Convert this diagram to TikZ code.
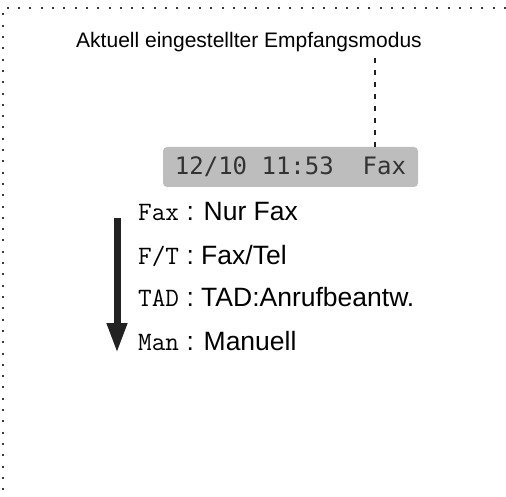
\documentclass[tikz,border=0pt]{standalone}
\usepackage{fontspec}
\setmainfont{Liberation Sans}
\setsansfont{Liberation Sans}
\newfontfamily\lcdfont{DejaVu Sans Mono}
\usetikzlibrary{arrows.meta, positioning, calc}
\definecolor{lcdGray}{HTML}{BDBDBD}
\definecolor{lcdText}{HTML}{333333}
\definecolor{frameDot}{HTML}{3A3A3A}
\definecolor{inkBlack}{HTML}{222222}
\tikzstyle{framedots} = [frameDot, line width=2pt, dash pattern=on 2pt off 9.3pt]
\tikzstyle{lcdbox} = [rectangle, rounded corners=4pt, fill=lcdGray, minimum width=255pt,
  minimum height=40pt, inner sep=0pt, text=lcdText, font=\lcdfont\fontsize{24}{26}\selectfont]
\tikzstyle{modeline} = [anchor=base west, inner sep=0pt, font=\fontsize{26.5}{30}\selectfont]
\newcommand{\modekey}[1]{{\ttfamily\fontsize{26.5}{30}\selectfont #1}}
\tikzstyle{arw} = [-{Triangle[length=30pt, width=19pt]}, line width=7pt, color=inkBlack]

\begin{document}
\begin{tikzpicture}[x=1pt, y=-1pt]
  \useasboundingbox (0,0) rectangle (506,497);
  % Frame corner (dotted)
  \draw[framedots] (506,8) -- (3,8) -- (3,497);

  % Caption and pointer
  \node[inner sep=0pt, anchor=base, font=\fontsize{21}{24}\selectfont] (caption) at (249,48) {Aktuell eingestellter Empfangsmodus};
  \node[lcdbox] (lcd) at (290.5,167) {12/10\ 11:53\ \ Fax};
  \coordinate (ptrTop) at (375,58);
  \draw[inkBlack, line width=2pt, dash pattern=on 5pt off 7pt] (ptrTop) -- (ptrTop |- lcd.north);

  % Receive modes
  \node[modeline] (mFax) at (138,221) {\modekey{Fax} : Nur Fax};
  \node[modeline] (mFT)  at (138,264) {\modekey{F/T} : Fax/Tel};
  \node[modeline] (mTAD) at (138,306) {\modekey{TAD} : TAD:Anrufbeantw.};
  \node[modeline] (mMan) at (138,350) {\modekey{Man} : Manuell};

  % Scroll arrow
  \coordinate (arTop) at (117,218);
  \coordinate (arEnd) at (117,353);
  \draw[arw] (arTop) -- (arEnd);
\end{tikzpicture}
\end{document}
